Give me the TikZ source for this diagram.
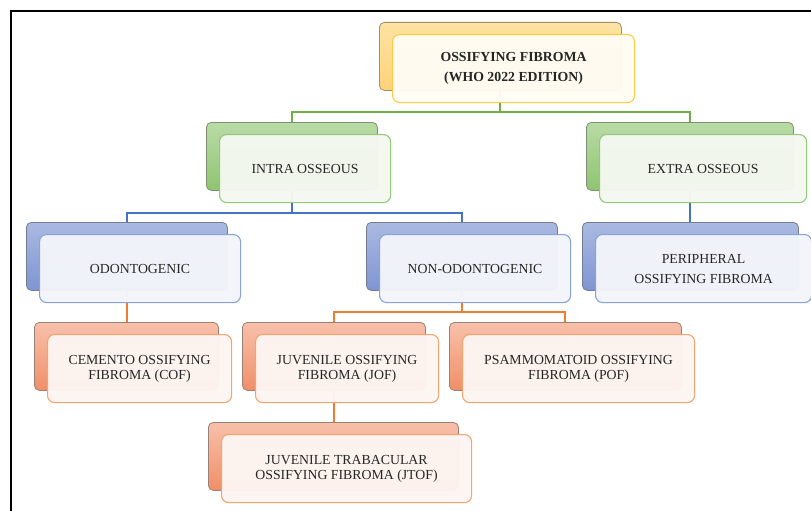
\documentclass[tikz,border=0pt]{standalone}
\usepackage{fontspec}
\setmainfont{Liberation Serif}
\usepackage{xcolor}
\usetikzlibrary{positioning,calc}

\definecolor{ytop}{HTML}{FFE3A3}
\definecolor{ybot}{HTML}{FFD27A}
\definecolor{ybord}{HTML}{A08F6E}
\definecolor{yfill}{HTML}{FFFCF4}
\definecolor{yline}{HTML}{FFCB45}
\definecolor{gtop}{HTML}{B9DBA6}
\definecolor{gbot}{HTML}{8EC470}
\definecolor{gbord}{HTML}{808F76}
\definecolor{gfill}{HTML}{F4F8F1}
\definecolor{gline}{HTML}{93C97B}
\definecolor{btop}{HTML}{AABAE2}
\definecolor{bbot}{HTML}{7F94D2}
\definecolor{bbord}{HTML}{727D94}
\definecolor{bfill}{HTML}{F3F5FA}
\definecolor{bline}{HTML}{88A3DA}
\definecolor{otop}{HTML}{F8C0AA}
\definecolor{obot}{HTML}{F08F68}
\definecolor{obord}{HTML}{9B8075}
\definecolor{ofill}{HTML}{FDF5F2}
\definecolor{oline}{HTML}{F2A46F}
\definecolor{glink}{HTML}{70AD47}
\definecolor{blink}{HTML}{4472C4}
\definecolor{olink}{HTML}{ED7D31}

\pgfdeclarelayer{bg}
\pgfsetlayers{bg,main}

\begin{document}
\begin{tikzpicture}[x=1pt,y=-1pt,font=\fontsize{13.8}{15}\selectfont,
  back/.style={rounded corners=5pt,minimum height=68pt,inner sep=0pt,anchor=north west,line width=0.8pt},
  front/.style={rounded corners=7pt,minimum height=68pt,inner sep=0pt,anchor=north west,line width=1.1pt,
    fill opacity=0.97,text opacity=1,align=center,text=black!85},
  yback/.style={back,draw=ybord,top color=ytop,bottom color=ybot},
  yfront/.style={front,draw=yline,fill=yfill},
  gback/.style={back,draw=gbord,top color=gtop,bottom color=gbot},
  gfront/.style={front,draw=gline,fill=gfill},
  bback/.style={back,draw=bbord,top color=btop,bottom color=bbot},
  bfront/.style={front,draw=bline,fill=bfill},
  oback/.style={back,draw=obord,top color=otop,bottom color=obot},
  ofront/.style={front,draw=oline,fill=ofill},
  link/.style={line width=2pt}]
\useasboundingbox (0,0) rectangle (811,511);
\draw[line width=2pt] (11,520) -- (11,11) -- (820,11);

\node[yback,minimum width=242pt] (ofb) at (379,22) {};
\node[yfront,minimum width=242pt,font=\fontsize{13.8}{20}\selectfont\bfseries] (of) at ([shift={(13,12)}]ofb.north west) {OSSIFYING FIBROMA\\(WHO 2022 EDITION)};

\node[gback,minimum width=171pt] (intrab) at (206,122) {};
\node[gfront,minimum width=171pt] (intra) at ([shift={(13,12)}]intrab.north west) {INTRA OSSEOUS};
\node[gback,minimum width=207pt] (extrab) at (586,122) {};
\node[gfront,minimum width=207pt] (extra) at ([shift={(13,12)}]extrab.north west) {EXTRA OSSEOUS};

\node[bback,minimum width=201pt] (odontb) at (26,222) {};
\node[bfront,minimum width=201pt] (odont) at ([shift={(13,12)}]odontb.north west) {ODONTOGENIC};
\node[bback,minimum width=191pt] (nonodb) at (366,222) {};
\node[bfront,minimum width=191pt] (nonod) at ([shift={(13,12)}]nonodb.north west) {NON-ODONTOGENIC};
\node[bback,minimum width=216pt] (perib) at (582,222) {};
\node[bfront,minimum width=216pt,font=\fontsize{13.8}{20}\selectfont] (peri) at ([shift={(13,12)}]perib.north west) {PERIPHERAL\\OSSIFYING FIBROMA};

\node[oback,minimum width=184pt] (cofb) at (34,322) {};
\node[ofront,minimum width=184pt] (cof) at ([shift={(13,12)}]cofb.north west) {CEMENTO OSSIFYING\\FIBROMA (COF)};
\node[oback,minimum width=183pt] (jofb) at (242,322) {};
\node[ofront,minimum width=183pt] (jof) at ([shift={(13,12)}]jofb.north west) {JUVENILE OSSIFYING\\FIBROMA (JOF)};
\node[oback,minimum width=232pt] (pofb) at (449,322) {};
\node[ofront,minimum width=232pt] (pof) at ([shift={(13,12)}]pofb.north west) {PSAMMOMATOID OSSIFYING\\FIBROMA (POF)};
\node[oback,minimum width=250pt] (jtofb) at (208,422) {};
\node[ofront,minimum width=250pt] (jtof) at ([shift={(13,12)}]jtofb.north west) {JUVENILE TRABACULAR\\OSSIFYING FIBROMA (JTOF)};

\begin{pgfonlayer}{bg}
\draw[link,glink] (ofb.south) -- ++(0,21) -| (intrab.north);
\draw[link,glink] (ofb.south) -- ++(0,21) -| (extrab.north);
\draw[link,blink] (intrab.south) -- ++(0,22) -| (odontb.north);
\draw[link,blink] (intrab.south) -- ++(0,22) -| (nonodb.north);
\draw[link,blink] (extrab.south) -- (extrab.south |- perib.north);
\draw[link,olink] (odontb.south) -- (odontb.south |- cofb.north);
\draw[link,olink] (nonodb.south) -- ++(0,21) -| (jofb.north);
\draw[link,olink] (nonodb.south) -- ++(0,21) -| (pofb.north);
\draw[link,olink] (jofb.south) -- (jofb.south |- jtofb.north);
\end{pgfonlayer}
\end{tikzpicture}
\end{document}
